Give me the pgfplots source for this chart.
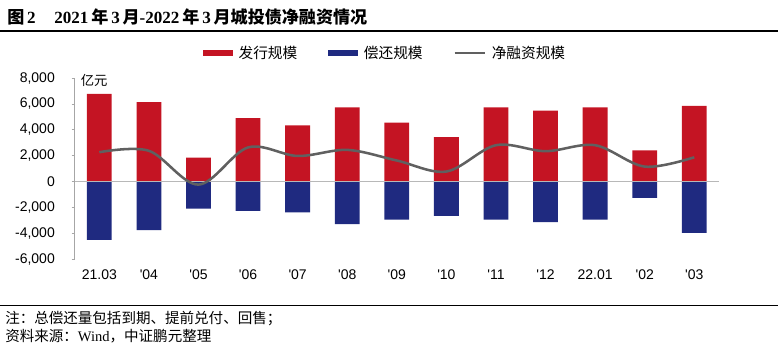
\documentclass[border=0pt]{standalone}
\usepackage{fontspec}
\usepackage{pgfplots}
\pgfplotsset{compat=1.18}
\setmainfont{Liberation Sans}
\newfontfamily\cjk{Noto Sans CJK SC}
\newfontfamily\tnr{Liberation Serif}
\definecolor{issue}{HTML}{C41423}
\definecolor{repay}{HTML}{1F2A80}
\definecolor{netc}{HTML}{606060}
\definecolor{axgray}{HTML}{A6A6A6}
\begin{document}
\begin{tikzpicture}
\useasboundingbox (0,0) rectangle (583.5pt,262.5pt);
% title and rules
\node[anchor=west, inner sep=0pt, font=\fontsize{12.8}{14}\selectfont] at (5.25pt,249.75pt)
 {{\cjk\bfseries 图}\,{\tnr\bfseries 2}\hspace{14pt}{\tnr\bfseries 2021}\,{\cjk\bfseries 年}\,{\tnr\bfseries 3}\,{\cjk\bfseries 月}{\tnr\bfseries -2022}\,{\cjk\bfseries 年}\,{\tnr\bfseries 3}\,{\cjk\bfseries 月城投债净融资情况}};
\draw[black, line width=0.8pt] (0,239.25pt) -- (583.5pt,239.25pt);
\draw[black, line width=0.8pt] (0,33.2pt) -- (583.5pt,33.2pt);
\node[anchor=west, inner sep=0pt, font=\fontsize{10.9}{12}\selectfont\cjk] at (3.75pt,23.25pt) {注：总偿还量包括到期、提前兑付、回售；};
\node[anchor=west, inner sep=0pt, font=\fontsize{10.9}{12}\selectfont\cjk] at (3.75pt,10pt) {资料来源：{\tnr Wind}，中证鹏元整理};
\begin{axis}[
  at={(55.9pt,68pt)}, anchor=south west,
  scale only axis, width=483.4pt, height=136pt,
  xmin=-0.5, xmax=12.5, ymin=-6000, ymax=8000,
  clip=false,
  axis y line*=left, axis x line*=bottom,
  axis line style={-},
  x axis line style={draw=none},
  y axis line style={axgray, line width=0.6pt},
  xtick={0,...,12},
  xticklabels={21.03,\textquotesingle 04,\textquotesingle 05,\textquotesingle 06,\textquotesingle 07,\textquotesingle 08,\textquotesingle 09,\textquotesingle 10,\textquotesingle 11,\textquotesingle 12,22.01,\textquotesingle 02,\textquotesingle 03},
  x tick style={draw=none},
  ytick={-6000,-4000,-2000,0,2000,4000,6000,8000},
  yticklabels={{-6,000},{-4,000},{-2,000},0,{2,000},{4,000},{6,000},{8,000}},
  y tick style={axgray, line width=0.6pt},
  tick align=outside, major tick length=2.25pt,
  tick label style={font=\fontsize{10.5}{12}\selectfont},
  yticklabel style={xshift=-9pt},
  xticklabel style={yshift=-2pt},
  legend style={draw=none, fill=none, at={(0.482,1.138)}, anchor=center,
    font=\fontsize{11}{12}\selectfont\cjk, inner sep=0pt,
    /tikz/every even column/.append style={column sep=21pt}},
  legend columns=3,
]
\addplot[ybar, bar width=0.5, bar shift=0pt, fill=issue, draw=none,
  legend image code/.code={\fill[issue] (0pt,-2.4pt) rectangle (22.5pt,2.4pt); \path (25pt,0pt);}]
  coordinates {(0,6770) (1,6130) (2,1850) (3,4900) (4,4350) (5,5740) (6,4560) (7,3430) (8,5740) (9,5480) (10,5740) (11,2420) (12,5840)};
\addlegendentry{发行规模}
\addplot[ybar, bar width=0.5, bar shift=0pt, fill=repay, draw=none,
  legend image code/.code={\fill[repay] (0pt,-2.4pt) rectangle (22.5pt,2.4pt); \path (25pt,0pt);}]
  coordinates {(0,-4500) (1,-3750) (2,-2080) (3,-2260) (4,-2370) (5,-3290) (6,-2930) (7,-2650) (8,-2930) (9,-3130) (10,-2930) (11,-1260) (12,-3960)};
\addlegendentry{偿还规模}
\addplot[forget plot, color=axgray!80, line width=0.7pt] coordinates {(-0.5,0) (12.5,0)};
\addplot[netc, line width=1.9pt, smooth, tension=0.55, mark=none,
  legend image code/.code={\draw[netc, line width=1.9pt] (0pt,0pt) -- (22.5pt,0pt); \path (25pt,0pt);}]
  coordinates {(0,2270) (1,2380) (2,-230) (3,2640) (4,1980) (5,2450) (6,1630) (7,780) (8,2810) (9,2350) (10,2810) (11,1160) (12,1880)};
\addlegendentry{净融资规模}
\node[anchor=west, inner sep=0pt, font=\fontsize{10}{12}\selectfont\cjk] at (rel axis cs:0,1) [xshift=4.5pt, yshift=-1.5pt] {亿元};
\end{axis}
\end{tikzpicture}
\end{document}
